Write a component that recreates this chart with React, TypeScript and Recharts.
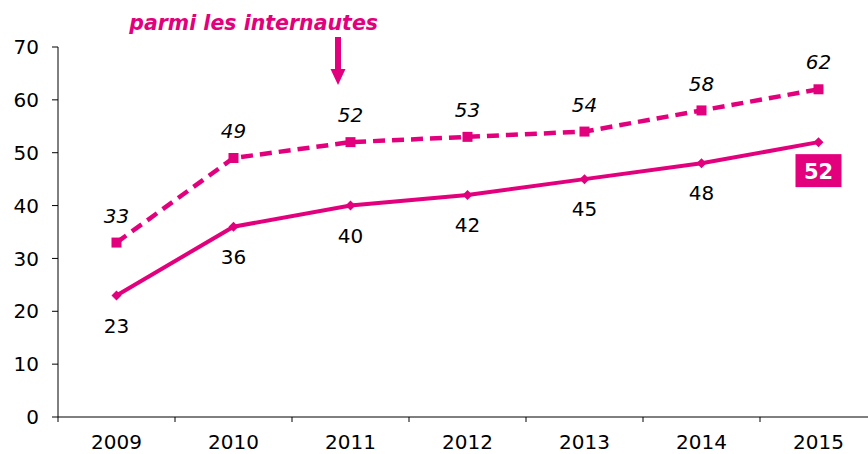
import { LineChart, Line, XAxis, YAxis, LabelList } from "recharts";

const years = ["2009", "2010", "2011", "2012", "2013", "2014", "2015"];
const ensemble = [23, 36, 40, 42, 45, 48, 52];
const internautes = [33, 49, 52, 53, 54, 58, 62];
const yTicks = [0, 10, 20, 30, 40, 50, 60, 70];

const data = years.map((year, i) => ({
  year,
  ensemble: ensemble[i],
  internautes: internautes[i]
}));

const MAGENTA = "#e3007d";
const FONT = "'DejaVu Sans', Verdana, sans-serif";
const CHART_W = 890;
const CHART_H = 454;
const MARGIN = { top: 47, right: 13, left: 0, bottom: 0 };
const Y_W = 58;
const STEP = (CHART_W - MARGIN.left - MARGIN.right - Y_W) / years.length;
const X_TICK = 5;
const X_GAP = 13;
const FS = 20;

function YearTick(props: any) {
  const { x, y, payload } = props;
  const axisY = y - X_TICK - X_GAP;
  const left = x - STEP / 2;
  return (
    <g>
      <line x1={left} x2={left} y1={axisY} y2={axisY + X_TICK} stroke="#000" />
      <text x={x} y={y} dy="0.71em" textAnchor="middle" fontSize={FS} fontFamily={FONT} fill="#000">
        {payload.value}
      </text>
    </g>
  );
}

function Diamond(props: any) {
  const { cx, cy } = props;
  if (cx == null || cy == null) return null;
  const r = 5;
  return (
    <polygon
      points={`${cx},${cy - r} ${cx + r},${cy} ${cx},${cy + r} ${cx - r},${cy}`}
      fill={MAGENTA}
    />
  );
}

function Square(props: any) {
  const { cx, cy } = props;
  if (cx == null || cy == null) return null;
  return <rect x={cx - 5} y={cy - 5} width={10} height={10} fill={MAGENTA} />;
}

function BelowLabel(props: any) {
  const { x, y, value, index } = props;
  if (index === ensemble.length - 1) {
    return (
      <g>
        <rect x={x - 23} y={y + 12} width={46} height={33} fill={MAGENTA} />
        <text x={x} y={y + 29} dy="0.36em" textAnchor="middle" fontSize={21} fontWeight="bold" fontFamily={FONT} fill="#fff">
          {value}
        </text>
      </g>
    );
  }
  return (
    <text x={x} y={y + 30} dy="0.36em" textAnchor="middle" fontSize={FS} fontFamily={FONT} fill="#000">
      {value}
    </text>
  );
}

function AboveLabel(props: any) {
  const { x, y, value } = props;
  return (
    <text x={x} y={y - 27} dy="0.36em" textAnchor="middle" fontSize={FS} fontStyle="italic" fontFamily={FONT} fill="#000">
      {value}
    </text>
  );
}

export default function App() {
  return (
    <div style={{ position: "absolute", left: 0, top: 0, width: 868, height: 454, overflow: "hidden", background: "#fff" }}>
      <LineChart width={CHART_W} height={CHART_H} data={data} margin={MARGIN}>
        <XAxis
          dataKey="year"
          height={37}
          padding={{ left: STEP / 2, right: STEP / 2 }}
          tickLine={false}
          tickSize={X_TICK}
          tickMargin={X_GAP}
          axisLine={{ stroke: "#000" }}
          tick={<YearTick />}
          interval={0}
        />
        <YAxis
          width={Y_W}
          domain={[0, 70]}
          ticks={yTicks}
          interval={0}
          tickSize={6}
          tickMargin={13}
          axisLine={{ stroke: "#000" }}
          tickLine={{ stroke: "#000" }}
          tick={{ fontSize: FS, fontFamily: FONT, fill: "#000" }}
        />
        <Line
          dataKey="internautes"
          stroke={MAGENTA}
          strokeWidth={4.5}
          strokeDasharray="12 7"
          dot={<Square />}
          activeDot={false}
          isAnimationActive={false}
        >
          <LabelList dataKey="internautes" content={<AboveLabel />} />
        </Line>
        <Line
          dataKey="ensemble"
          stroke={MAGENTA}
          strokeWidth={4}
          dot={<Diamond />}
          activeDot={false}
          isAnimationActive={false}
        >
          <LabelList dataKey="ensemble" content={<BelowLabel />} />
        </Line>
      </LineChart>
      <svg width={868} height={454} style={{ position: "absolute", left: 0, top: 0, pointerEvents: "none" }}>
        <text x={378} y={30} textAnchor="end" fontSize={20.5} fontWeight="bold" fontStyle="italic" fontFamily={FONT} fill={MAGENTA}>
          parmi les internautes
        </text>
        <rect x={335} y={37} width={6} height={33} fill={MAGENTA} />
        <polygon points="330.5,69 345.5,69 338,85" fill={MAGENTA} />
      </svg>
    </div>
  );
}
